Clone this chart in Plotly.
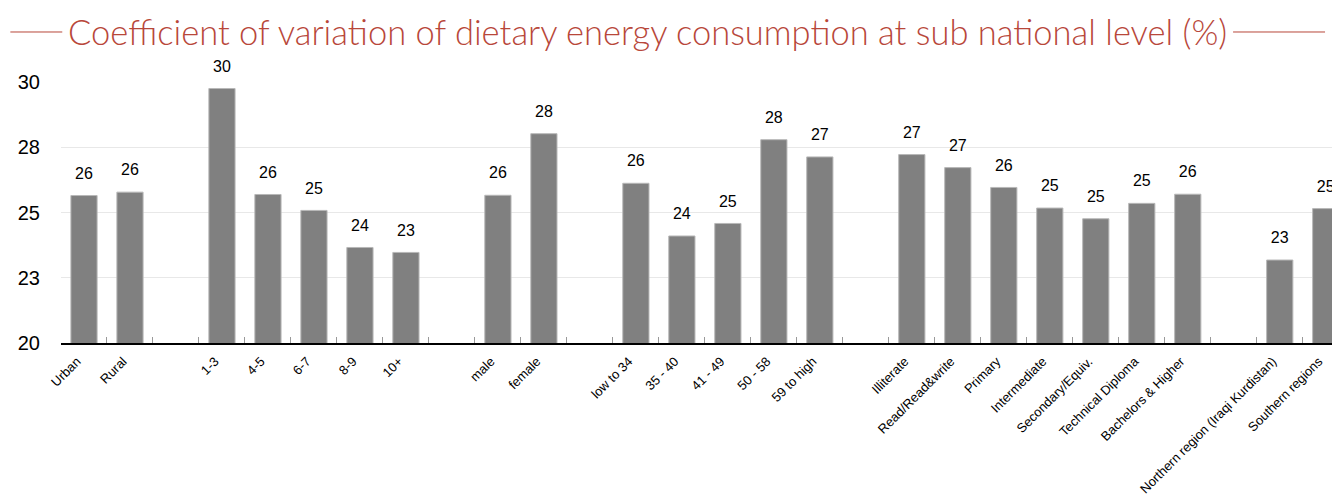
import plotly.graph_objects as go

categories = ["Urban", "Rural", " ",
              "1-3", "4-5", "6-7", "8-9", "10+", "  ",
              "male", "female", "   ",
              "low to 34", "35 - 40", "41 - 49", "50 - 58", "59 to high", "    ",
              "Illiterate", "Read/Read&write", "Primary", "Intermediate", "Secondary/Equiv.",
              "Technical Diploma", "Bachelors & Higher", "     ",
              "Northern region (Iraqi Kurdistan)", "Southern regions"]
values = [25.65, 25.78, None,
          29.75, 25.69, 25.08, 23.66, 23.47, None,
          25.66, 28.02, None,
          26.12, 24.10, 24.58, 27.79, 27.13, None,
          27.22, 26.72, 25.96, 25.17, 24.76, 25.35, 25.70, None,
          23.18, 25.15]
ytick_vals = [20, 22.5, 25, 27.5, 30]
ytick_text = ["20", "23", "25", "28", "30"]
title_text = "Coefficient of variation of dietary energy consumption at sub national level (%)"

TITLE_COLOR = "#B8473A"

fig = go.Figure()
fig.add_trace(go.Bar(
    x=categories, y=values,
    marker=dict(color="#808080", line=dict(color="#b8b8b8", width=1)),
    width=0.57,
    hoverinfo="skip",
))
fig.add_trace(go.Scatter(
    x=categories, y=values,
    mode="markers+text",
    marker=dict(size=19, opacity=0),
    text=[("%.0f" % v) if v is not None else "" for v in values],
    textposition="top center",
    textfont=dict(family="Liberation Sans, Arial", size=16, color="#000"),
    cliponaxis=False,
    hoverinfo="skip",
))

fig.update_layout(
    width=1332, height=488,
    margin=dict(l=53, r=0, t=74, b=153),
    plot_bgcolor="white", paper_bgcolor="white",
    showlegend=False,
    font=dict(family="Liberation Sans, Arial", color="#000"),
    xaxis=dict(
        type="category", range=[-0.5, 27.31],
        tickson="boundaries", ticks="inside", ticklen=6, tickcolor="#999",
        tickangle=-45, tickfont=dict(size=13),
        ticklabelshift=-7, ticklabelstandoff=4,
        showline=True, linecolor="#000", linewidth=1.5,
        showgrid=False, automargin=False,
    ),
    yaxis=dict(
        range=[20, 30], tickvals=ytick_vals, ticktext=ytick_text,
        tickfont=dict(size=20), ticklabelstandoff=20,
        showgrid=True, gridcolor="#e8e8e8", gridwidth=1,
        zeroline=False, showline=False, automargin=False,
    ),
)

fig.add_annotation(
    xref="paper", yref="paper", x=0.4583, y=1.1916,
    text=title_text, showarrow=False,
    font=dict(family="Lato", size=34.5, color=TITLE_COLOR, weight=300),
    xanchor="center", yanchor="middle",
)
fig.add_shape(type="line", xref="paper", yref="paper",
              x0=-0.0396, x1=0.001, y0=1.1916, y1=1.1916,
              line=dict(color=TITLE_COLOR, width=1))
fig.add_shape(type="line", xref="paper", yref="paper",
              x0=0.9164, x1=0.9883, y0=1.1916, y1=1.1916,
              line=dict(color=TITLE_COLOR, width=1))

fig.write_html("out.html")
